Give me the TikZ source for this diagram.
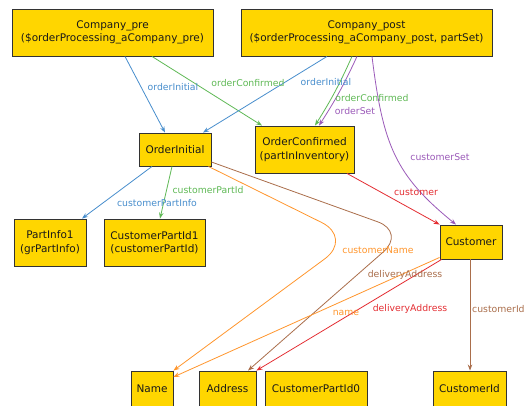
\documentclass[tikz,border=0pt]{standalone}
\usepackage{fontspec}
\setmainfont{DejaVu Sans}
\usetikzlibrary{arrows.meta,calc}
\definecolor{gold}{RGB}{255,214,0}
\definecolor{eblue}{RGB}{72,142,205}
\definecolor{egreen}{RGB}{95,185,85}
\definecolor{epurple}{RGB}{155,90,185}
\definecolor{ered}{RGB}{228,45,50}
\definecolor{eorange}{RGB}{255,150,45}
\definecolor{ebrown}{RGB}{170,110,75}
\begin{document}
\begin{tikzpicture}[x=1pt,y=-1pt,
  box/.style={draw=black!80, line width=0.9pt, fill=gold, inner sep=0pt,
    align=center, font=\fontsize{10.5}{13.5}\selectfont, text=black!90},
  rel/.style={line width=0.8pt, -{Stealth[length=6pt,width=4.5pt]}},
  lbl/.style={font=\fontsize{9.3}{11}\selectfont, inner sep=0pt}
]
\useasboundingbox (0,0) rectangle (532,405);
\fill[white] (0,0) rectangle (532,405);

% classes
\node[box, minimum width=201pt, minimum height=47pt] (cpre) at (112.5,32.5)
  {Company\_pre\\(\$orderProcessing\_aCompany\_pre)};
\node[box, minimum width=251pt, minimum height=47pt] (cpost) at (366.5,32.5)
  {Company\_post\\(\$orderProcessing\_aCompany\_post, partSet)};
\node[box, minimum width=72pt, minimum height=33pt] (oi) at (175,149.5) {OrderInitial};
\node[box, minimum width=99pt, minimum height=47pt] (oc) at (304.5,149.5)
  {OrderConfirmed\\(partInInventory)};
\node[box, minimum width=72pt, minimum height=47pt] (pi1) at (50,242.5)
  {PartInfo1\\(grPartInfo)};
\node[box, minimum width=101pt, minimum height=47pt] (cpi1) at (154.5,242.5)
  {CustomerPartId1\\(customerPartId)};
\node[box, minimum width=62pt, minimum height=34pt] (cust) at (471,242) {Customer};
\node[box, minimum width=42pt, minimum height=35pt] (name) at (152,388.5) {Name};
\node[box, minimum width=57pt, minimum height=35pt] (addr) at (227.5,388.5) {Address};
\node[box, minimum width=102pt, minimum height=35pt] (cpi0) at (316,388.5) {CustomerPartId0};
\node[box, minimum width=73pt, minimum height=35pt] (cid) at (469.5,388.5) {CustomerId};

% bend points of the long links
\coordinate (bendName) at (353,238);
\coordinate (bendAddr) at (406,232);

% links
\draw[rel, eblue] ([xshift=12.5pt]cpre.south) -- ([xshift=-10pt]oi.north);
\draw[rel, egreen] ([xshift=39.5pt]cpre.south) -- ([xshift=-42.5pt]oc.north);
\draw[rel, eblue] ([xshift=-39.5pt]cpost.south) -- ([xshift=28pt]oi.north);
\draw[rel, egreen] ([xshift=-14.5pt]cpost.south) to[bend left=4] ([xshift=10.5pt]oc.north);
\draw[rel, epurple] ([xshift=-9.5pt]cpost.south) to[bend left=4] ([xshift=14.5pt]oc.north);
\draw[rel, epurple] ([xshift=5.5pt]cpost.south)
  .. controls (383,145) and (395,175) .. ([xshift=-15pt]cust.north);
\draw[rel, ered] ([xshift=42.5pt]oc.south) -- (cust.north west);
\draw[rel, eblue] ([xshift=-23pt]oi.south) -- ([xshift=32pt]pi1.north);
\draw[rel, egreen] ([xshift=-3pt]oi.south) -- ([xshift=5.5pt]cpi1.north);
\draw[rel, eorange, rounded corners=35pt] ([xshift=-3pt]oi.south east) -- (bendName) -- (name.north east);
\draw[rel, ebrown, rounded corners=30pt] ([yshift=-12.5pt]oi.east) -- (bendAddr) -- ([xshift=20.5pt]addr.north);
\draw[rel, eorange] ([yshift=2pt]cust.south west) -- ([yshift=11.5pt]name.east);
\draw[rel, ered] ([xshift=2pt]cust.south west) -- (addr.north east);
\draw[rel, ebrown] ([xshift=-1pt]cust.south) -- ([xshift=-1pt]cust.south |- cid.north);

% link labels
\node[lbl, text=eblue] (t1) at (173,87) {orderInitial};
\node[lbl, text=egreen] (t2) at (248,83) {orderConfirmed};
\node[lbl, text=eblue] (t3) at (326,82) {orderInitial};
\node[lbl, text=egreen] (t4) at (372,98) {orderConfirmed};
\node[lbl, text=epurple] (t5) at (355,111) {orderSet};
\node[lbl, text=epurple] (t6) at (440,157) {customerSet};
\node[lbl, text=ered] (t7) at (416,192) {customer};
\node[lbl, text=eblue] (t8) at (157,203) {customerPartInfo};
\node[lbl, text=egreen] (t9) at (208,190) {customerPartId};
\node[lbl, text=eorange] (t10) at (378,250) {customerName};
\node[lbl, text=ebrown] (t11) at (405,275) {deliveryAddress};
\node[lbl, text=eorange] (t12) at (346,313) {name};
\node[lbl, text=ered] (t13) at (410,309) {deliveryAddress};
\node[lbl, text=ebrown, anchor=west] (t14) at (472,309) {customerId};
\end{tikzpicture}
\end{document}
